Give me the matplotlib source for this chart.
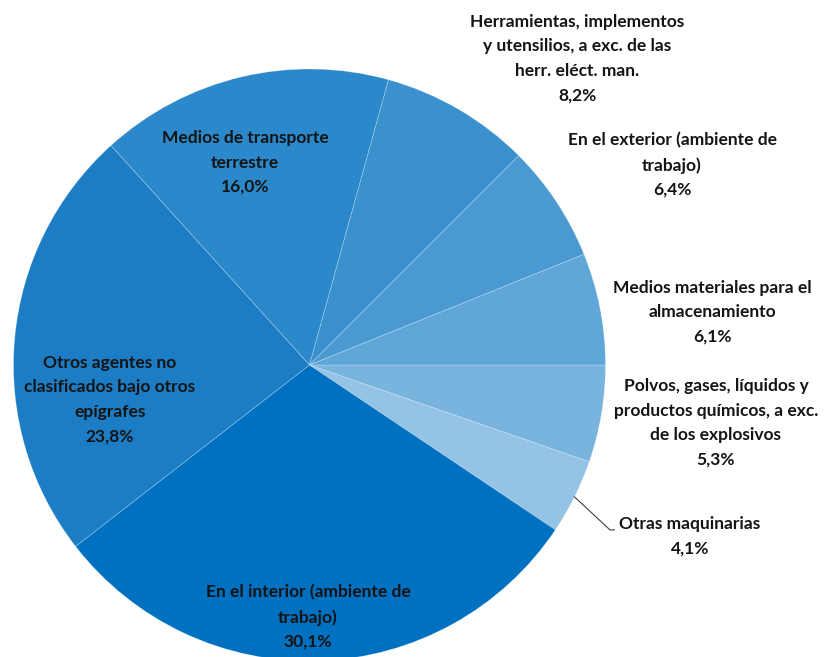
import numpy as np
import matplotlib.pyplot as plt

# --------------------------
# DATA (clockwise from 3 o'clock)
# --------------------------
categories = [
    'Polvos, gases, líquidos y\nproductos químicos, a exc.\nde los explosivos',
    'Otras maquinarias',
    'En el interior (ambiente de\ntrabajo)',
    'Otros agentes no\nclasificados bajo otros\nepígrafes',
    'Medios de transporte\nterrestre',
    'Herramientas, implementos\ny utensilios, a exc. de las\nherr. eléct. man.',
    'En el exterior (ambiente de\ntrabajo)',
    'Medios materiales para el\nalmacenamiento',
]
values = [5.3, 4.1, 30.1, 23.8, 16.0, 8.2, 6.4, 6.1]
value_labels = ['5,3%', '4,1%', '30,1%', '23,8%', '16,0%', '8,2%', '6,4%', '6,1%']

colors = ['#79b4de', '#94c3e5', '#0070c0', '#1c7dc5',
          '#2b88ca', '#3b91cd', '#4a9ad1', '#5ea7d8']

# label centres in pie-radius units
label_pos = [
    (1.373, -0.196),
    (1.285, -0.579),
    (-0.005, -0.851),
    (-0.674, -0.117),
    (-0.218, 0.684),
    (0.904, 1.035),
    (1.225, 0.676),
    (1.360, 0.179),
]

# --------------------------
# PLOT
# --------------------------
fig = plt.figure(figsize=(8.3, 6.57), dpi=100)
ax = fig.add_axes([0, 0, 1, 1])

ax.pie(values, colors=colors, startangle=0, counterclock=False,
       radius=1.0, center=(0, 0),
       wedgeprops=dict(edgecolor=(1, 1, 1, 0.3), linewidth=0.5))

for cat, vl, (x, y) in zip(categories, value_labels, label_pos):
    ax.text(x, y, f'{cat}\n{vl}', ha='center', va='center',
            multialignment='center',
            fontsize=12.5, fontweight='bold', family='Lato',
            color='#141414', linespacing=1.65)

# leader line for "Otras maquinarias"
ang = np.deg2rad(-(values[0] + values[1] / 2) / 100 * 360)
x0, y0 = np.cos(ang), np.sin(ang)
ax.plot([x0, 1.015, 1.03], [y0, -0.557, -0.557], color='#404040', lw=0.8)

ax.set_xlim(-309.5 / 296, (830 - 309.5) / 296)
ax.set_ylim(-292 / 296, 365 / 296)
ax.set_aspect('equal')
ax.axis('off')

fig.savefig('out.png', dpi=100)
